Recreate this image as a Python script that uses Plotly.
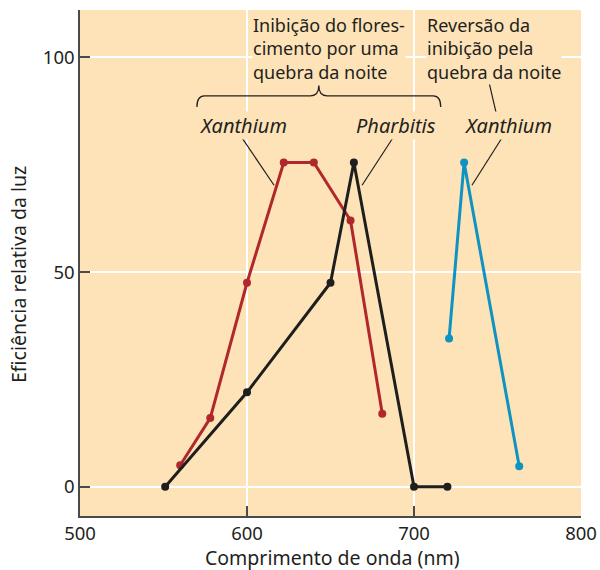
import plotly.graph_objects as go

# Xanthium: inhibition of flowering by a night break
xanthium_nm = [560, 578, 600, 622, 640, 662, 681]
xanthium_eff = [5, 16, 47.5, 75.5, 75.5, 62, 17]

# Pharbitis: inhibition of flowering by a night break
pharbitis_nm = [551, 600, 650, 664, 700, 720]
pharbitis_eff = [0, 22, 47.5, 75.5, 0, 0]

# Xanthium: reversal of the night-break inhibition
reversal_nm = [721, 730, 763]
reversal_eff = [34.5, 75.5, 4.8]

x_ticks = [500, 600, 700, 800]
y_ticks = [0, 50, 100]

BG = "#FDE3B7"
INK = "#231F20"
FONT = "Noto Sans"

fig = go.Figure()

for xs, ys, col in [
    (xanthium_nm, xanthium_eff, "#B0282C"),
    (pharbitis_nm, pharbitis_eff, "#1E1E1E"),
    (reversal_nm, reversal_eff, "#0E93C2"),
]:
    fig.add_trace(go.Scatter(
        x=xs, y=ys, mode="lines+markers",
        line=dict(color=col, width=3),
        marker=dict(color=col, size=8),
        showlegend=False, hoverinfo="skip",
    ))

# curly brace grouping the two night-break curves
brace = ("M 570,88.4 Q 570,91 574.5,91 L 638,91 Q 643,91 643,93.4 "
         "Q 643,91 648,91 L 711.5,91 Q 716,91 716,88.4")
fig.add_shape(type="path", path=brace, xref="x", yref="y",
              line=dict(color=INK, width=1.3), layer="above")

# leader lines from the labels to their curves
leaders = [
    (596.4, 81.6, 616.2, 70.2),
    (688.0, 81.6, 668.9, 70.2),
    (753.3, 81.6, 734.7, 70.2),
    (744.9, 94.2, 749.7, 86.2),
]
for x0, y0, x1, y1 in leaders:
    fig.add_shape(type="line", x0=x0, y0=y0, x1=x1, y1=y1, xref="x", yref="y",
                  line=dict(color=INK, width=1.2), layer="above")

text_font = dict(family=FONT, size=18, color=INK)
ital_font = dict(family=FONT, size=20, color=INK, style="italic")

captions = [
    (602.8, "Inibição do flores-<br>cimento por uma<br>quebra da noite"),
    (707.2, "Reversão da<br>inibição pela<br>quebra da noite"),
]
for x_left, txt in captions:
    fig.add_annotation(x=x_left, y=102.0, xref="x", yref="y", xanchor="left", yanchor="middle",
                       text=txt, align="left", showarrow=False, font=text_font,
                       bgcolor=BG, borderpad=0)

for xc, label in [(597.5, "Xanthium"), (689.5, "Pharbitis"), (756.5, "Xanthium")]:
    fig.add_annotation(x=xc, y=84.1, xref="x", yref="y", xanchor="center", yanchor="middle",
                       text=label, showarrow=False, font=ital_font, bgcolor=BG, borderpad=0)

title_font = dict(family=FONT, size=19.5, color=INK)
# axis titles
fig.add_annotation(x=-0.124, y=0.478, xref="paper", yref="paper", xanchor="center",
                   yanchor="middle", textangle=-90, showarrow=False,
                   text="Eficiência relativa da luz", font=title_font)
fig.add_annotation(x=0.504, y=-0.083, xref="paper", yref="paper", xanchor="center",
                   yanchor="middle", showarrow=False,
                   text="Comprimento de onda (nm)", font=title_font)

axis_common = dict(
    showline=True, linecolor="#4A4A4A", linewidth=1.5,
    ticks="inside", ticklen=10, tickwidth=1.5, tickcolor="#4A4A4A",
    showgrid=True, gridcolor="white", gridwidth=1.5,
    zeroline=False, automargin=False,
    tickfont=dict(family=FONT, size=18.5, color=INK),
)

fig.update_xaxes(range=[500, 800], tickvals=x_ticks, **axis_common)
fig.update_yaxes(range=[-6.8, 111], tickvals=y_ticks, **axis_common)

fig.update_layout(
    width=600, height=570,
    margin=dict(l=80, r=19, t=10, b=54),
    plot_bgcolor=BG, paper_bgcolor="white",
)

fig.write_html("out.html")
